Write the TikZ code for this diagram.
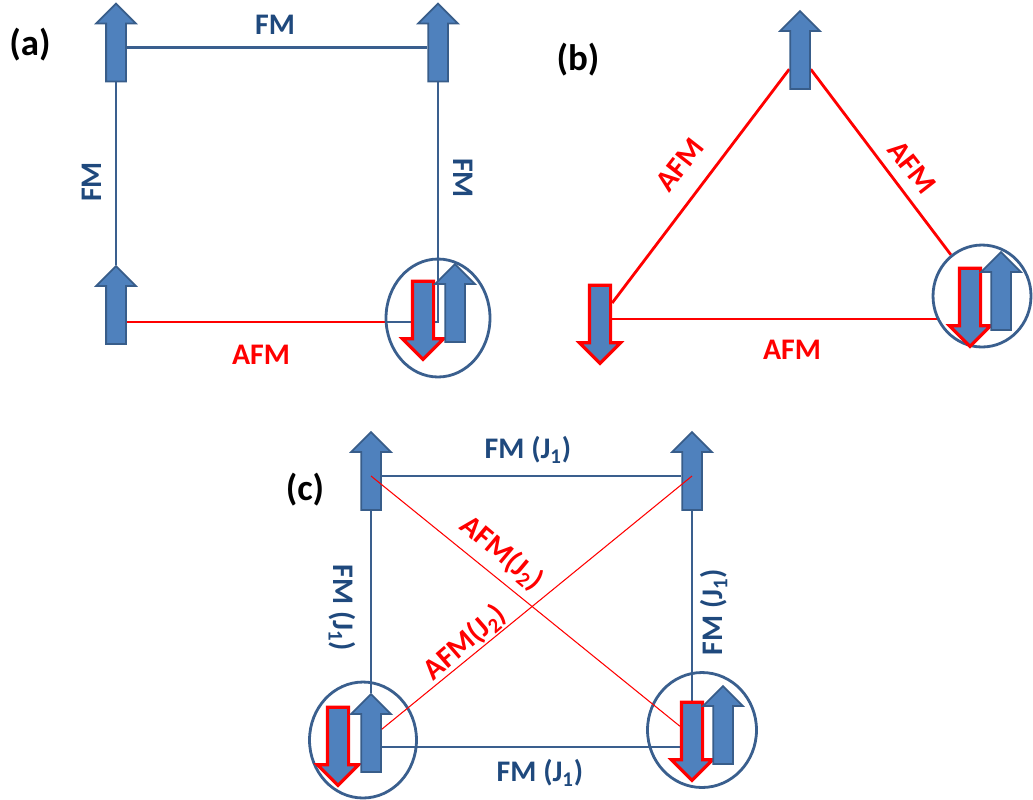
\documentclass[tikz,border=0pt]{standalone}
\usepackage{fontspec}
\setmainfont{Carlito}
\usetikzlibrary{shapes.arrows,shapes.geometric,backgrounds}
\definecolor{spinblue}{HTML}{4F81BD}
\definecolor{spinedge}{HTML}{385D8A}
\definecolor{bondblue}{HTML}{3A5F8E}
\definecolor{textblue}{HTML}{1F497D}

\begin{document}
\begin{tikzpicture}[x=0.02cm,y=-0.02cm,
    spin/.style ={single arrow, single arrow head extend=0.2cm,
                  minimum height=1.56cm, inner sep=0.18cm, fill=spinblue},
    upspin/.style ={spin, draw=spinedge, line width=1pt, rotate=90},
    downspin/.style ={spin, draw=red, line width=1.8pt, rotate=-90},
    pair/.style ={ellipse, draw=bondblue, line width=1.6pt, inner sep=0pt},
    fm/.style ={bondblue, line width=1.6pt},
    afm/.style ={red, line width=1.6pt},
    jtwo/.style ={red, line width=0.6pt},
    lbl/.style ={font=\fontsize{17}{20}\selectfont\bfseries, inner sep=0pt},
    panel/.style ={font=\fontsize{21}{24}\selectfont\bfseries, inner sep=0pt}]
   \useasboundingbox (0,0) rectangle (1033,799);

   % (a)
   \node[panel] (ta) at (30,45) {(a)};
   \node[upspin] (a1) at (116,47.5) {};
   \node[upspin] (a2) at (438,47.5) {};
   \node[upspin] (a3) at (116,310) {};
   \node[pair,minimum width=2.08cm,minimum height=2.36cm] (pa) at (438,318) {};
   \node[downspin] (a4) at (423,315) {};
   \node[upspin] (a5) at (455,308) {};
   \coordinate (ak) at (438,322);
   \coordinate (a3r) at (125,322);

   \node[lbl,textblue] (fa1) at (275,25) {FM};
   \node[lbl,textblue,rotate=90] (fa2) at (92,182) {FM};
   \node[lbl,textblue,rotate=-90] (fa3) at (463,178) {FM};
   \node[lbl,red] (fa4) at (261,355) {AFM};

   % (b)
   \node[panel] (tb) at (578,60) {(b)};
   \node[upspin] (b1) at (800,55) {};
   \node[downspin] (b2) at (600,319) {};
   \node[pair,minimum width=1.96cm,minimum height=2.04cm] (pb) at (982,296) {};
   \node[downspin] (b3) at (970,302) {};
   \node[upspin] (b4) at (1001,296) {};
   \coordinate (bk) at (939,319);

   \node[lbl,red,rotate=52] (fb1) at (680,165) {AFM};
   \node[lbl,red,rotate=-52] (fb2) at (912,167) {AFM};
   \node[lbl,red] (fb3) at (792,350) {AFM};

   % (c)
   \node[panel] (tc) at (305,490) {(c)};
   \node[upspin] (c1) at (371,476) {};
   \node[upspin] (c2) at (692,476) {};
   \node[pair,minimum width=2.14cm,minimum height=2.32cm] (pc1) at (363,740) {};
   \node[downspin] (c3) at (338,741) {};
   \node[upspin] (c4) at (371,738) {};
   \node[pair,minimum width=2.18cm,minimum height=2.3cm] (pc2) at (702,730) {};
   \node[downspin] (c5) at (692,736) {};
   \node[upspin] (c6) at (723,730) {};
   \coordinate (ck) at (692,747);

   \node[lbl,textblue] (fc1) at (528,450) {FM (J\textsubscript{1})};
   \node[lbl,textblue] (fc2) at (540,773) {FM (J\textsubscript{1})};
   \node[lbl,textblue,rotate=-90] (fc3) at (342,608) {FM (J\textsubscript{1})};
   \node[lbl,textblue,rotate=90] (fc4) at (714,612) {FM (J\textsubscript{1})};
   \node[lbl,red,rotate=-40] (fc5) at (502,553) {AFM(J\textsubscript{2})};
   \node[lbl,red,rotate=41] (fc6) at (465,643) {AFM(J\textsubscript{2})};

   \begin{pgfonlayer}{background}
   \draw[fm] (a1) -- (a2);
   \draw[fm] (a1) -- (a3);
   \draw[fm] (a2) -- (ak) -- (ak -| pa.west);
   \draw[afm] (a3r) -- (ak -| pa.west);

   \draw[afm] (b1) -- (b2);
   \draw[afm] (b1) -- (pb);
   \draw[afm] (b2) -- (bk);

   \draw[fm] (c1) -- (c2);
   \draw[fm] (c1) -- (c4);
   \draw[fm] (c2) -- (c5);
   \draw[fm] (c4 |- ck) -- (ck);
   \end{pgfonlayer}

   \draw[jtwo] (c1.center) -- (c5);
   \draw[jtwo] (c4) -- (c2.center);
\end{tikzpicture}
\end{document}
